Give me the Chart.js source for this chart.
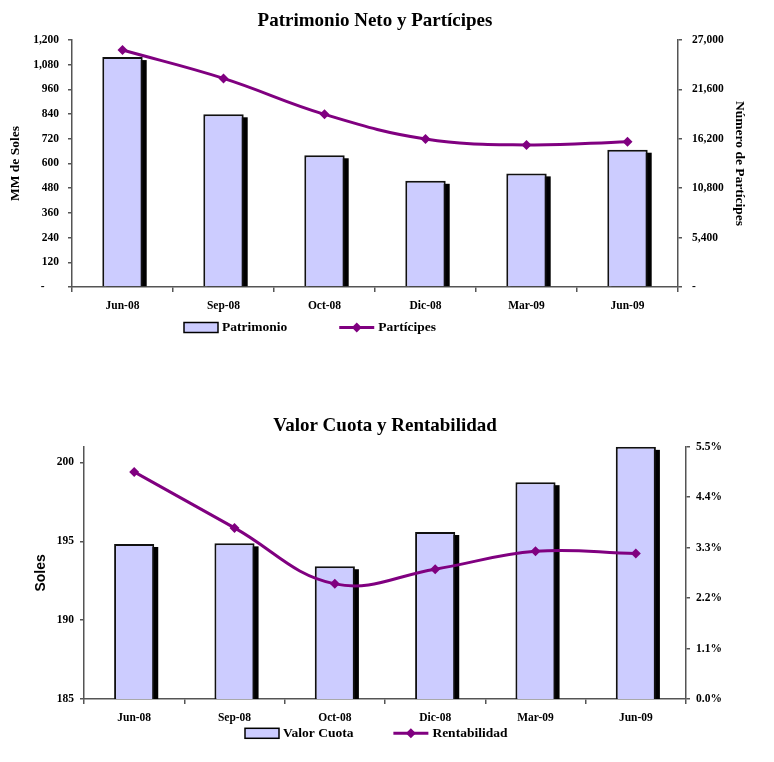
<!DOCTYPE html>
<html>
<head>
<meta charset="utf-8">
<script src="https://cdn.jsdelivr.net/npm/chart.js@4"></script>
<style>
  body { margin: 0; background: #fff; }
  .box { position: absolute; left: 0; }
  #box1 { top: 0; }
  #box2 { top: 392px; }
</style>
</head>
<body>
<div class="box" id="box1"><canvas id="chart1" width="774" height="345"></canvas></div>
<div class="box" id="box2"><canvas id="chart2" width="774" height="370"></canvas></div>
<script>
const categories = ['Jun-08', 'Sep-08', 'Oct-08', 'Dic-08', 'Mar-09', 'Jun-09'];

// Patrimonio (MM de Soles) and number of participants
const patrimonio = [1117, 839, 640, 516, 552, 667];
const participes = [25900, 22800, 18870, 16180, 15520, 15890];

// Valor cuota (Soles) and rentabilidad (%)
const valorCuota = [194.83, 194.87, 193.42, 195.59, 198.75, 200.99];
const rentabilidad = [4.95, 3.73, 2.51, 2.83, 3.22, 3.17];

// axis ranges: [min, max, step]
const patrimonioAxis = [0, 1200, 120];
const participesAxis = [0, 27000, 5400];
const cuotaAxis = [185, 201, 5];
const rentAxis = [0, 5.5, 1.1];

const barFill = '#CCCCFF';
const lineColor = '#800080';
const axisGray = '#555555';

Chart.defaults.font.family = '"Liberation Serif", "Times New Roman", serif';
Chart.defaults.font.weight = 'bold';
Chart.defaults.color = '#000';

// excel accounting style: zero shows as a dash
const dashLeft = v => v === 0 ? '-     ' : v.toLocaleString('en-US');
const dashRight = v => v === 0 ? '-' : v.toLocaleString('en-US');

// black drop shadow to the right of each bar, like the old excel look
const barShadow = {
    id: 'barShadow',
    beforeDatasetsDraw(chart) {
        const ctx = chart.ctx;
        const area = chart.chartArea;
        ctx.save();
        ctx.beginPath();
        ctx.rect(area.left, area.top, area.right - area.left, area.bottom - area.top);
        ctx.clip();
        ctx.fillStyle = '#000';
        chart.data.datasets.forEach((ds, i) => {
            const meta = chart.getDatasetMeta(i);
            if (meta.type !== 'bar') return;
            meta.data.forEach(bar => {
                const p = bar.getProps(['x', 'y', 'base', 'width'], true);
                ctx.fillRect(p.x - p.width / 2 + 4, p.y + 3, p.width, p.base - p.y - 3);
            });
        });
        ctx.restore();
    }
};

// excel-like legend: box for the bars, line with diamond for the line
const xlLegend = {
    id: 'xlLegend',
    afterDraw(chart, args, opts) {
        const ctx = chart.ctx;
        ctx.save();
        ctx.font = 'bold 13.5px "Liberation Serif"';
        ctx.textBaseline = 'middle';
        let x = opts.x;
        const y = opts.y;
        chart.data.datasets.forEach(ds => {
            if (ds.type === 'line') {
                ctx.strokeStyle = ds.borderColor;
                ctx.lineWidth = 3;
                ctx.beginPath();
                ctx.moveTo(x, y);
                ctx.lineTo(x + 35, y);
                ctx.stroke();
                ctx.fillStyle = ds.borderColor;
                ctx.beginPath();
                ctx.moveTo(x + 17.5, y - 5);
                ctx.lineTo(x + 22.5, y);
                ctx.lineTo(x + 17.5, y + 5);
                ctx.lineTo(x + 12.5, y);
                ctx.closePath();
                ctx.fill();
                x += 39;
            } else {
                ctx.fillStyle = ds.backgroundColor;
                ctx.fillRect(x, y - 5, 34, 10);
                ctx.strokeStyle = '#000';
                ctx.lineWidth = 1.5;
                ctx.strokeRect(x, y - 5, 34, 10);
                x += 38;
            }
            ctx.fillStyle = '#000';
            ctx.textAlign = 'left';
            ctx.fillText(ds.label, x, y);
            x += ctx.measureText(ds.label).width + opts.gap;
        });
        ctx.restore();
    }
};

function yScale(position, range, fmt, pad, title) {
    return {
        position: position,
        min: range[0],
        max: range[1],
        ticks: { stepSize: range[2], includeBounds: false, callback: fmt, padding: pad, font: { size: 11.5 } },
        grid: { drawOnChartArea: false, drawTicks: true, tickLength: 4, color: axisGray, lineWidth: 1.5 },
        border: { color: axisGray, width: 1.5 },
        title: title
    };
}

function xScale() {
    return {
        ticks: { padding: 7, font: { size: 11.5 } },
        grid: { drawOnChartArea: false, drawTicks: true, tickLength: 5, color: axisGray, lineWidth: 1.5 },
        border: { color: axisGray, width: 1.5 },
        afterFit: s => { s.height = 25; }
    };
}

function lineSet(label, data, axis) {
    return {
        type: 'line',
        label: label,
        data: data,
        yAxisID: axis,
        borderColor: lineColor,
        backgroundColor: lineColor,
        borderWidth: 3,
        tension: 0.4,
        pointStyle: 'rectRot',
        pointRadius: 5,
        pointBackgroundColor: lineColor,
        pointBorderWidth: 0,
        order: 0
    };
}

function barSet(label, data, axis) {
    return {
        type: 'bar',
        label: label,
        data: data,
        yAxisID: axis,
        backgroundColor: barFill,
        borderColor: '#111',
        borderWidth: 2,
        barPercentage: 0.8,
        categoryPercentage: 0.5,
        order: 1
    };
}

// Patrimonio Neto y Partícipes
new Chart(document.getElementById('chart1'), {
    data: {
        labels: categories,
        datasets: [
            barSet('Patrimonio', patrimonio, 'y'),
            lineSet('Partícipes', participes, 'y1')
        ]
    },
    options: {
        responsive: false,
        animation: false,
        devicePixelRatio: 1,
        layout: { padding: { left: 0, right: 0, top: 0, bottom: 33 } },
        plugins: {
            legend: { display: false },
            tooltip: { enabled: false },
            title: {
                display: true,
                fullSize: false,
                text: 'Patrimonio Neto y Partícipes',
                font: { size: 19, weight: 'bold' },
                padding: { top: 9.5, bottom: 7.7 }
            },
            xlLegend: { x: 184, y: 327.5, gap: 52 }
        },
        scales: {
            x: xScale(),
            y: Object.assign(yScale('left', patrimonioAxis, dashLeft, 9, {
                display: true, text: 'MM de Soles', font: { size: 13.5, weight: 'bold' }, padding: { top: 7, bottom: 0 }
            }), { afterFit: s => { s.width = 72; } }),
            y1: Object.assign(yScale('right', participesAxis, dashRight, 10, {
                display: true, text: 'Número de Partícipes', font: { size: 13.5, weight: 'bold' }, padding: { top: 26.6, bottom: 0 }
            }), { afterFit: s => { s.width = 96; } })
        }
    },
    plugins: [barShadow, xlLegend]
});

// Valor Cuota y Rentabilidad
new Chart(document.getElementById('chart2'), {
    data: {
        labels: categories,
        datasets: [
            barSet('Valor Cuota', valorCuota, 'y'),
            lineSet('Rentabilidad', rentabilidad, 'y1')
        ]
    },
    options: {
        responsive: false,
        animation: false,
        devicePixelRatio: 1,
        layout: { padding: { left: 0, right: 0, top: 0, bottom: 38 } },
        plugins: {
            legend: { display: false },
            tooltip: { enabled: false },
            title: {
                display: true,
                fullSize: false,
                text: 'Valor Cuota y Rentabilidad',
                font: { size: 19, weight: 'bold' },
                padding: { top: 22.6, bottom: 9.3 }
            },
            xlLegend: { x: 245, y: 341.3, gap: 40 }
        },
        scales: {
            x: xScale(),
            y: Object.assign(yScale('left', cuotaAxis, v => v, 6, {
                display: true, text: 'Soles', font: { family: '"Liberation Sans", Arial, sans-serif', size: 14, weight: 'bold' }, padding: { top: 32.6, bottom: 0 }
            }), { afterFit: s => { s.width = 84; } }),
            y1: Object.assign(yScale('right', rentAxis, v => v.toFixed(1) + '%', 6, { display: false }), {
                afterFit: s => { s.width = 774 - 686; }
            })
        }
    },
    plugins: [barShadow, xlLegend]
});
</script>
</body>
</html>
